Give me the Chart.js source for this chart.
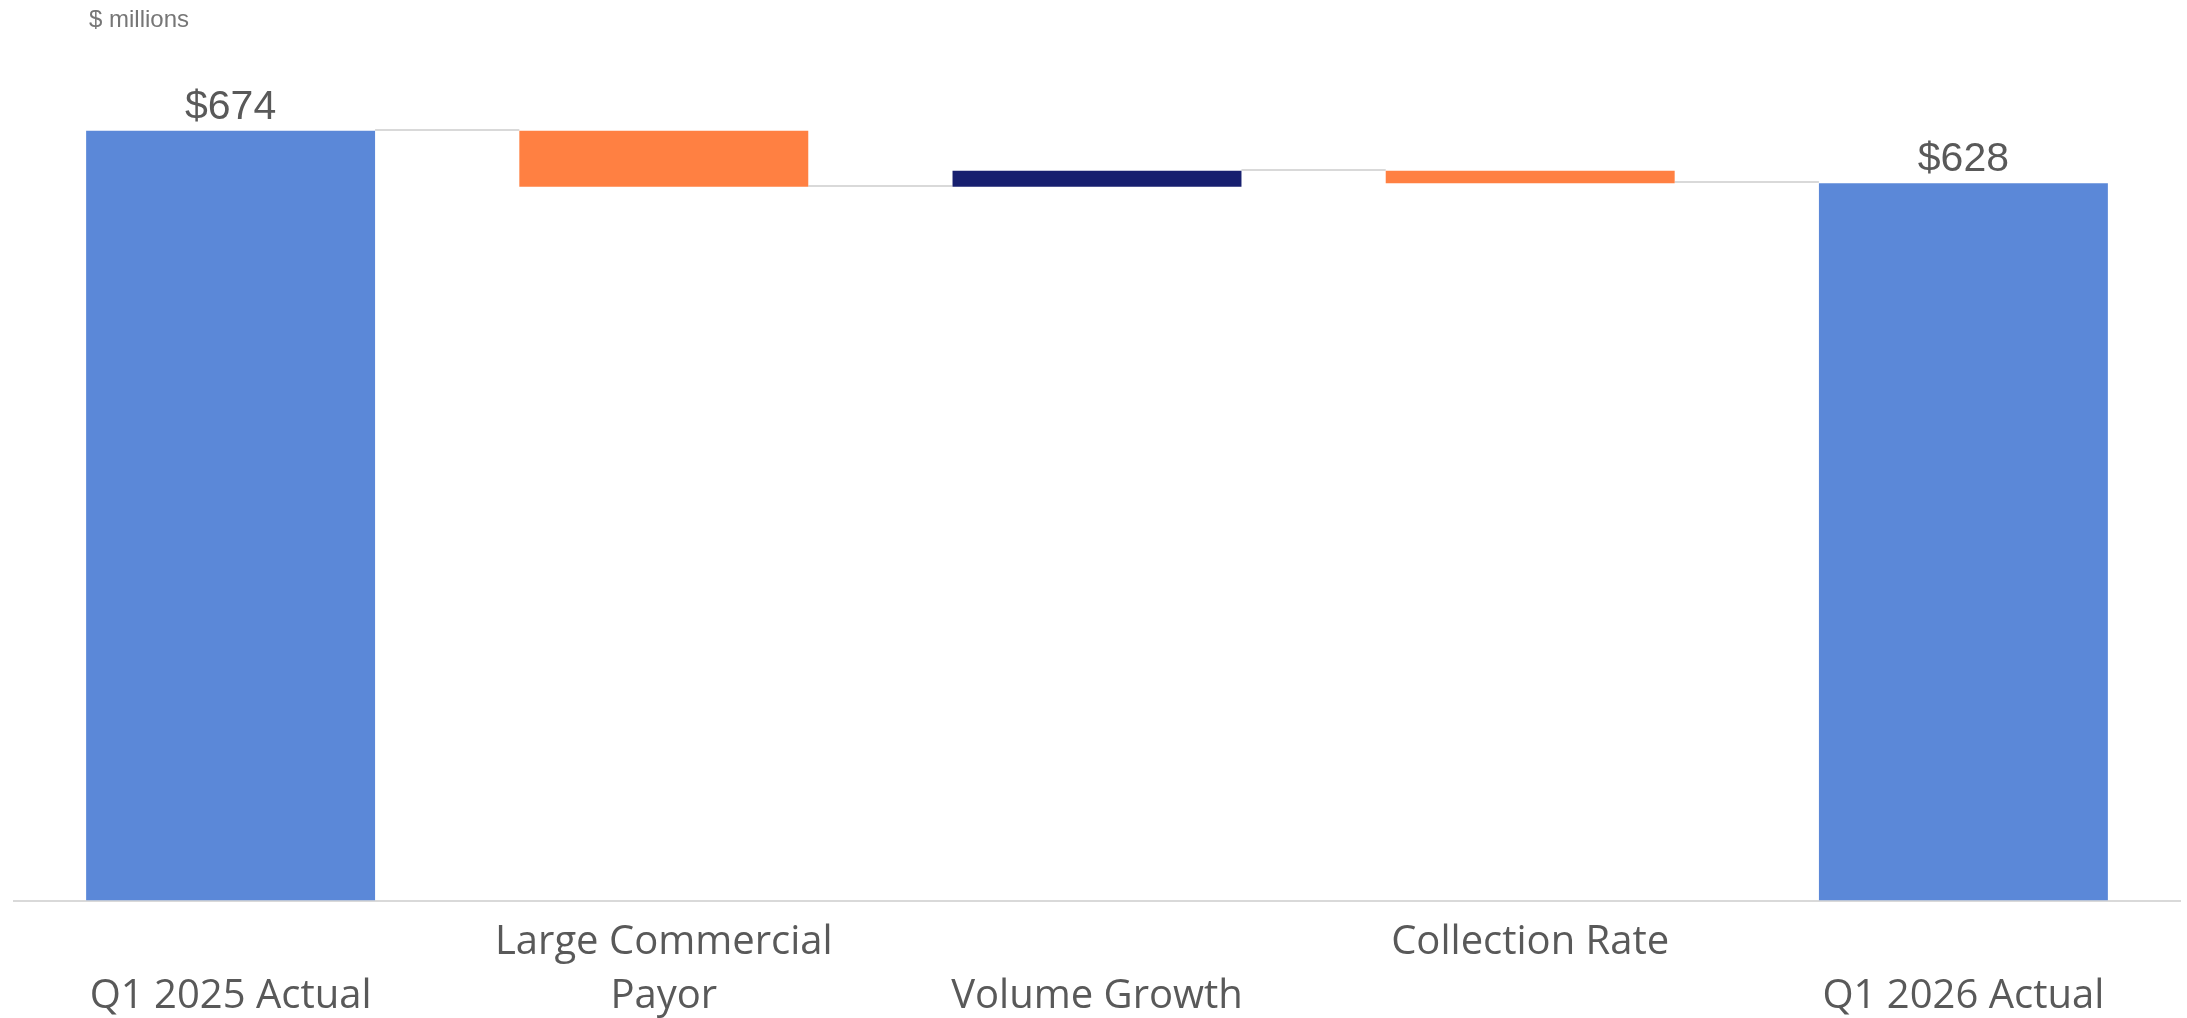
<!DOCTYPE html>
<html>
<head>
<meta charset="utf-8">
<script src="https://cdn.jsdelivr.net/npm/chart.js@4"></script>
<style>
  body { margin: 0; background: #fff; }
  #wrap { width: 2187px; height: 1018px; position: relative; }
</style>
</head>
<body>
<div id="wrap"><canvas id="waterfall"></canvas></div>
<script>
// chart data
const categories = [
  ['', 'Q1 2025 Actual'],
  ['Large Commercial', 'Payor'],
  ['', 'Volume Growth'],
  ['Collection Rate', ''],
  ['', 'Q1 2026 Actual']
]
const startTotal = 674
const deltas = [-49, 14, -11]
const endTotal = 628
const unitNote = '$ millions'

const blue = '#5B88D8'
const orange = '#FF8042'
const navy = '#171F6F'
const grey = '#D9D9D9'

// building floating bars [low, high] for the waterfall
const buildRanges = () => {
  const ranges = [[0, startTotal]]
  let running = startTotal
  deltas.forEach(d => {
    ranges.push([running, running + d])
    running += d
  })
  ranges.push([0, endTotal])
  return ranges
}

const barColors = () => {
  return [blue, ...deltas.map(d => d < 0 ? orange : navy), blue]
}

// running totals used for connectors
const levels = () => {
  const out = [startTotal]
  let running = startTotal
  deltas.forEach(d => { running += d; out.push(running) })
  return out
}

const connectors = {
  id: 'connectors',
  beforeDatasetsDraw(chart) {
    const ctx = chart.ctx
    const bars = chart.getDatasetMeta(0).data
    const y = chart.scales.y
    ctx.save()
    ctx.strokeStyle = grey
    ctx.lineWidth = 2
    levels().forEach((lvl, i) => {
      const a = bars[i], b = bars[i + 1]
      const py = Math.round(y.getPixelForValue(lvl)) - 1
      ctx.beginPath()
      ctx.moveTo(a.x + a.width / 2, py)
      ctx.lineTo(b.x - b.width / 2, py)
      ctx.stroke()
    })
    ctx.restore()
  }
}

const totalLabels = {
  id: 'totalLabels',
  afterDatasetsDraw(chart) {
    const ctx = chart.ctx
    const bars = chart.getDatasetMeta(0).data
    const last = bars.length - 1
    ctx.save()
    ctx.fillStyle = '#595959'
    ctx.font = '41px "Liberation Sans", Arial, sans-serif'
    ctx.textAlign = 'center'
    ctx.textBaseline = 'alphabetic'
    ;[[0, startTotal], [last, endTotal]].forEach(([i, v]) => {
      ctx.fillText('$' + v, bars[i].x, bars[i].y - 12)
    })
    // unit note top left
    ctx.fillStyle = '#767676'
    ctx.font = '24px "Liberation Sans", Arial, sans-serif'
    ctx.textAlign = 'left'
    ctx.fillText(unitNote, chart.chartArea.left + 75, 27)
    ctx.restore()
  }
}

const ctx = document.getElementById('waterfall')

new Chart(ctx, {
  type: 'bar',
  data: {
    labels: categories,
    datasets: [{
      data: buildRanges(),
      backgroundColor: barColors(),
      borderWidth: 0,
      borderSkipped: false,
      barPercentage: 0.667,
      categoryPercentage: 1
    }]
  },
  options: {
    responsive: true,
    maintainAspectRatio: false,
    animation: false,
    layout: { padding: { top: 44, left: 14, right: 7, bottom: 0 } },
    plugins: {
      legend: { display: false },
      tooltip: { enabled: false }
    },
    scales: {
      x: {
        grid: { display: false, drawTicks: false },
        border: { display: true, color: grey, width: 2 },
        ticks: {
          autoSkip: false,
          maxRotation: 0,
          padding: 16,
          color: '#595959',
          font: { family: '"Open Sans", "Noto Sans", sans-serif', size: 40, lineHeight: 1.33 }
        },
        afterFit(scale) { scale.height = 117.5 }
      },
      y: {
        display: false,
        min: 0,
        max: 750
      }
    }
  },
  plugins: [connectors, totalLabels]
})
</script>
</body>
</html>
